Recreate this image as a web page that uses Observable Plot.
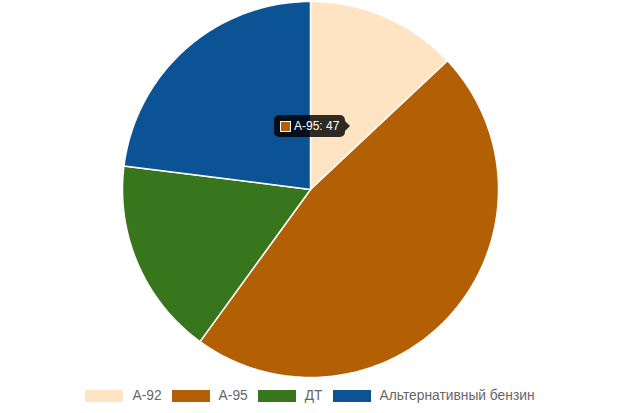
<!DOCTYPE html>
<html><head><meta charset="utf-8">
<script src="https://cdn.jsdelivr.net/npm/d3@7"></script>
<script src="https://cdn.jsdelivr.net/npm/@observablehq/plot@0.6"></script>
<style>
body{margin:0;background:#fff;font-family:"Liberation Sans",Arial,sans-serif;}
#wrap{position:relative;width:620px;height:413px;}
#legend{position:absolute;top:388px;left:0;width:620px;display:flex;justify-content:center;gap:0;font-size:13.8px;color:#666;}
.item{display:flex;align-items:center;margin:0 5px;}
.sw{width:38px;height:12px;margin-right:9px;}
#tip{position:absolute;left:274px;top:115px;height:22px;padding:0 6px 0 6px;background:rgba(0,0,0,0.82);border-radius:5px;color:#fff;font-size:12px;display:flex;align-items:center;}
#tip:after{content:"";position:absolute;right:-5px;top:6px;border-top:5px solid transparent;border-bottom:5px solid transparent;border-left:5px solid rgba(0,0,0,0.82);}
#tip .b{width:9px;height:9px;border:1.5px solid #fff;margin-right:3px;}
</style></head>
<body><div id="wrap"><div id="chart"></div><div id="legend"></div><div id="tip"></div></div>
<script>
const categories = ["А-92", "А-95", "ДТ", "Альтернативный бензин"];
const values = [13, 47, 17, 23];
const colors = ["#FFE4C4", "#B35F04", "#38761D", "#0B5394"];
const tipIndex = 1;

const arcs = d3.pie().sort(null)(values);
const pts = [];
arcs.forEach((a, i) => {
  const n = Math.max(2, Math.ceil((a.endAngle - a.startAngle) * 60));
  pts.push({cat: categories[i], x: 0, y: 0});
  for (let k = 0; k <= n; k++) {
    const t = a.startAngle + (a.endAngle - a.startAngle) * k / n;
    pts.push({cat: categories[i], x: Math.sin(t), y: Math.cos(t)});
  }
  pts.push({cat: categories[i], x: 0, y: 0});
});

const chart = Plot.plot({
  width: 620, height: 378,
  marginLeft: 122, marginRight: 122, marginTop: 1, marginBottom: 1,
  x: {domain: [-1, 1], axis: null},
  y: {domain: [-1, 1], axis: null},
  color: {domain: categories, range: colors},
  marks: [
    Plot.line(pts, {x: "x", y: "y", z: "cat", fill: "cat", stroke: "#fff", strokeWidth: 1.5, curve: "linear"})
  ]
});
document.getElementById("chart").appendChild(chart);

const lg = document.getElementById("legend");
categories.forEach((c, i) => {
  const d = document.createElement("div"); d.className = "item";
  d.innerHTML = `<span class="sw" style="background:${colors[i]}"></span><span>${c}</span>`;
  lg.appendChild(d);
});
document.getElementById("tip").innerHTML =
  `<span class="b" style="background:${colors[tipIndex]}"></span><span>${categories[tipIndex]}: ${values[tipIndex]}</span>`;
</script></body></html>
